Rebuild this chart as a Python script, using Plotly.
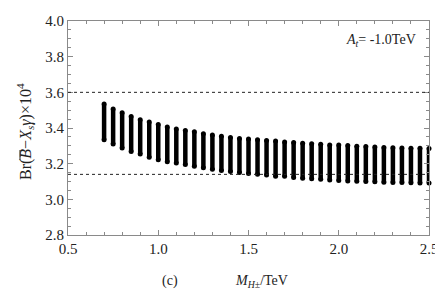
import plotly.graph_objects as go

# charged Higgs mass (TeV) for each scan strip
m_h = [0.70, 0.75, 0.80, 0.85, 0.90, 0.95, 1.00, 1.05, 1.10, 1.15, 1.20, 1.25,
       1.30, 1.35, 1.40, 1.45, 1.50, 1.55, 1.60, 1.65, 1.70, 1.75, 1.80, 1.85,
       1.90, 1.95, 2.00, 2.05, 2.10, 2.15, 2.20, 2.25, 2.30, 2.35, 2.40, 2.45, 2.50]
# upper end of each strip (Br x 10^4)
br_max = [3.534, 3.507, 3.485, 3.464, 3.446, 3.433, 3.419, 3.406, 3.395, 3.386,
          3.379, 3.368, 3.361, 3.354, 3.347, 3.341, 3.338, 3.334, 3.330, 3.327,
          3.321, 3.318, 3.314, 3.311, 3.309, 3.305, 3.304, 3.302, 3.298, 3.296,
          3.294, 3.291, 3.289, 3.288, 3.287, 3.286, 3.285]
# lower end of each strip (Br x 10^4)
br_min = [3.334, 3.310, 3.288, 3.268, 3.254, 3.236, 3.222, 3.211, 3.204, 3.195,
          3.186, 3.177, 3.168, 3.161, 3.156, 3.150, 3.145, 3.141, 3.136, 3.130,
          3.129, 3.123, 3.118, 3.116, 3.112, 3.109, 3.105, 3.103, 3.102, 3.100,
          3.098, 3.096, 3.095, 3.094, 3.093, 3.092, 3.091]
# experimental bounds (dashed lines)
bounds = [3.60, 3.14]

xs, ys = [], []
for m, lo, hi in zip(m_h, br_min, br_max):
    xs += [m, m, None]
    ys += [lo, hi, None]

fig = go.Figure()
fig.add_trace(go.Scatter(
    x=xs, y=ys, mode="lines+markers", cliponaxis=False,
    line=dict(color="black", width=4.5),
    marker=dict(color="black", size=5),
    showlegend=False, hoverinfo="skip"))

for b in bounds:
    fig.add_shape(type="line", xref="paper", yref="y", x0=0, x1=1, y0=b, y1=b,
                  line=dict(color="#222", width=1, dash="3px,3px"))

font = "Liberation Serif"
axis_common = dict(
    showgrid=False, zeroline=False, showline=True, linecolor="#8a8a8a",
    linewidth=1, mirror="allticks", ticks="inside", ticklen=5, tickwidth=1,
    tickcolor="#8a8a8a", tickformat=".1f", ticklabeloverflow="allow",
    tickfont=dict(family=font, size=15, color="#222"),
)
fig.update_xaxes(range=[0.5, 2.5], dtick=0.5, tick0=0.5,
                 minor=dict(dtick=0.1, ticklen=3, ticks="inside", tickcolor="#8a8a8a"),
                 **axis_common)
fig.update_yaxes(range=[2.8, 4.0], dtick=0.2, tick0=2.8,
                 minor=dict(dtick=0.05, ticklen=3, ticks="inside", tickcolor="#8a8a8a"),
                 **axis_common)

ann_font = dict(family=font, size=14, color="#222")
fig.add_annotation(xref="paper", yref="paper", x=0, y=0.5, xshift=-43, yshift=-4,
                   textangle=-90, showarrow=False, xanchor="center", yanchor="middle",
                   text="Br(<i>B</i>−<i>X</i><sub><i>s</i></sub><i>&#947;</i>)×10<sup>4</sup>",
                   font=dict(family=font, size=16, color="#222"))
# overline over the B of the y title
fig.add_shape(type="line", xref="paper", yref="paper",
              xsizemode="pixel", xanchor=0, x0=-48, x1=-48,
              ysizemode="pixel", yanchor=0.5, y0=-22, y1=-32,
              line=dict(color="#222", width=1))
fig.add_annotation(xref="paper", yref="paper", x=0.282, y=-0.216,
                   showarrow=False, xanchor="center", yanchor="middle",
                   text="(c)", font=ann_font)
fig.add_annotation(xref="paper", yref="paper", x=0.536, y=-0.216,
                   showarrow=False, xanchor="center", yanchor="middle",
                   text="<i>M</i><sub><i>H</i>±</sub>/TeV", font=ann_font)
fig.add_annotation(xref="paper", yref="paper", x=0.867, y=0.91,
                   showarrow=False, xanchor="center", yanchor="middle",
                   text="<i>A</i><sub><i>t</i></sub>= -1.0TeV", font=ann_font)

# page body adds an 8px offset; figure sized so the page does not overflow
fig.update_layout(width=435, height=282, margin=dict(l=60, r=13, t=5, b=55),
                  plot_bgcolor="white", paper_bgcolor="white",
                  font=dict(family=font))
fig.write_html("out.html")
